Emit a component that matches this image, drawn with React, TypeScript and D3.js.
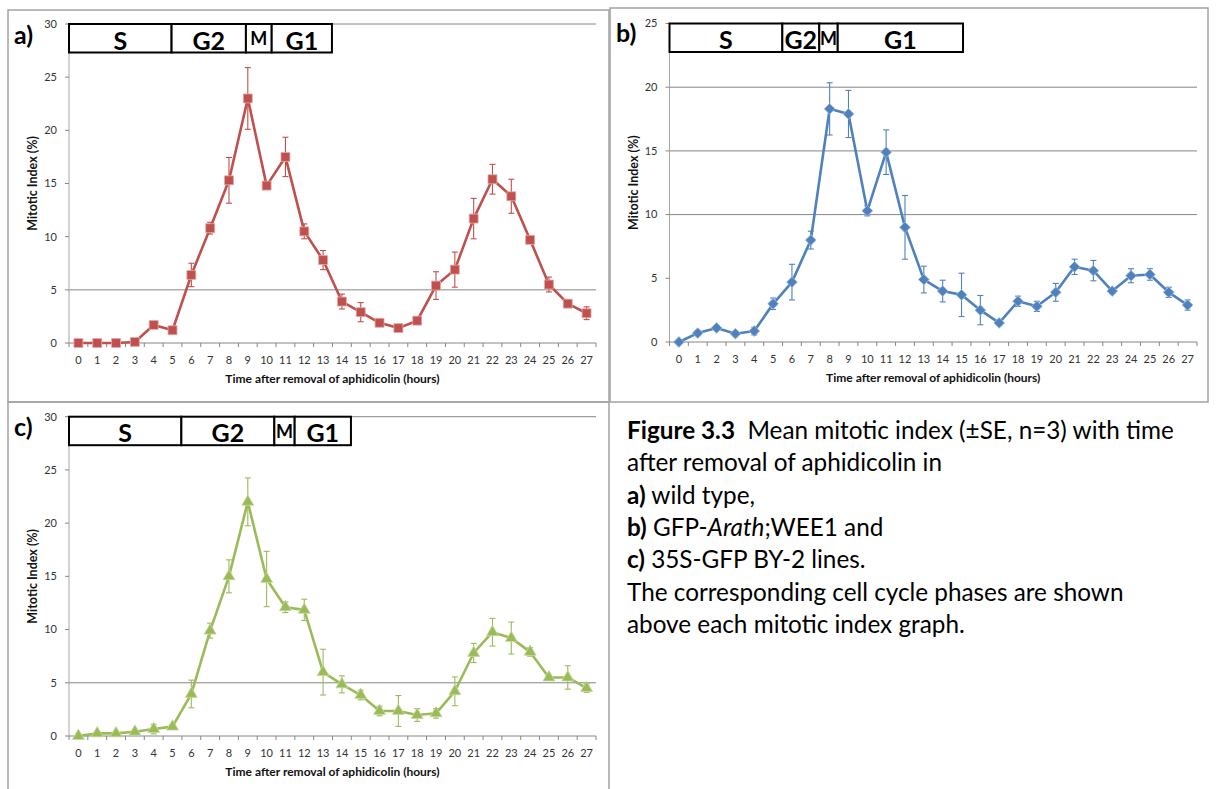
import * as d3 from 'd3';

// time points (hours after removal of aphidicolin)
const hours = [0, 1, 2, 3, 4, 5, 6, 7, 8, 9, 10, 11, 12, 13, 14, 15, 16, 17, 18, 19, 20, 21, 22, 23, 24, 25, 26, 27];

// a) wild type
const wildTypeMean = [0, 0, 0, 0.1, 1.7, 1.2, 6.4, 10.8, 15.3, 23.0, 14.8, 17.5, 10.5, 7.8, 3.9, 2.9, 1.9, 1.4, 2.1, 5.4, 6.9, 11.7, 15.4, 13.8, 9.7, 5.5, 3.7, 2.8];
const wildTypeSE = [0.1, 0.1, 0.1, 0.1, 0.2, 0.2, 1.1, 0.55, 2.15, 2.9, 0.3, 1.85, 0.7, 0.9, 0.7, 0.9, 0.2, 0.2, 0.1, 1.3, 1.65, 1.9, 1.4, 1.6, 0.2, 0.7, 0.1, 0.6];

// b) GFP-Arath;WEE1
const weeMean = [0, 0.7, 1.1, 0.65, 0.86, 3.0, 4.7, 8.0, 18.3, 17.9, 10.3, 14.9, 9.0, 4.9, 4.0, 3.7, 2.5, 1.5, 3.2, 2.8, 3.9, 5.9, 5.6, 4.0, 5.2, 5.3, 3.9, 2.9];
const weeSE = [0.1, 0.2, 0.15, 0.15, 0.3, 0.45, 1.4, 0.7, 2.05, 1.85, 0.4, 1.75, 2.5, 1.05, 0.85, 1.7, 1.15, 0.2, 0.4, 0.4, 0.7, 0.6, 0.8, 0.2, 0.55, 0.45, 0.4, 0.4];

// c) 35S-GFP
const gfpMean = [0, 0.25, 0.25, 0.4, 0.65, 0.88, 3.95, 9.9, 15.0, 22.0, 14.75, 12.1, 11.85, 6.0, 4.85, 3.85, 2.35, 2.35, 1.97, 2.13, 4.2, 7.8, 9.75, 9.2, 7.9, 5.5, 5.5, 4.5];
const gfpSE = [0.1, 0.1, 0.1, 0.1, 0.45, 0.2, 1.3, 0.7, 1.55, 2.25, 2.6, 0.5, 1.0, 2.15, 0.8, 0.45, 0.45, 1.45, 0.6, 0.45, 1.35, 0.9, 1.3, 1.5, 0.4, 0.2, 1.1, 0.4];

// cell cycle phases, boundaries in hours
const phaseNames = ['S', 'G2', 'M', 'G1'];
const wildTypePhases = [0, 5.45, 9.4, 10.77, 13.97];
const weePhases = [0, 5.99, 7.95, 8.93, 15.58];
const gfpPhases = [0, 5.97, 10.91, 11.99, 14.98];

const ticks30 = [0, 5, 10, 15, 20, 25, 30];
const ticks25 = [0, 5, 10, 15, 20, 25];
const grid30 = [5, 30];
const grid25 = [10, 15, 20];

const FONT = 'Lato, "Open Sans", sans-serif';

interface PanelProps {
  label: string;
  frame: { x: number; y: number; w: number; h: number };
  plot: { left: number; right: number; top: number; bottom: number };
  mean: number[];
  se: number[];
  yTicks: number[];
  grid: number[];
  phases: number[];
  color: string;
  edge: string;
  marker: 'square' | 'diamond' | 'triangle';
}

function Panel({ label, frame, plot, mean, se, yTicks, grid, phases, color, edge, marker }: PanelProps) {
  const x = d3.scaleBand<number>().domain(hours).range([plot.left, plot.right]);
  const xh = d3.scaleLinear().domain([0, hours.length]).range([plot.left, plot.right]);
  const yMax = d3.max(yTicks) || 30;
  const y = d3.scaleLinear().domain([0, yMax]).range([plot.bottom, plot.top]);
  const cx = (h: number) => (x(h) || 0) + x.bandwidth() / 2;

  const line = d3.line<number>()
    .x((_, i) => cx(hours[i]))
    .y(d => y(d));

  let sym;
  if (marker === 'square') sym = d3.symbol(d3.symbolSquare, 80)();
  else if (marker === 'diamond') sym = d3.symbol(d3.symbolSquare, 58)();
  else sym = d3.symbol(d3.symbolTriangle, 62)();
  const rot = marker === 'diamond' ? 45 : 0;

  const boxTop = y(yMax);
  const boxH = 28.5;
  const boxBottom = boxTop + boxH;
  const tickEdges = d3.range(hours.length + 1).map(i => xh(i));

  return (
    <g>
      <rect x={frame.x} y={frame.y} width={frame.w} height={frame.h} fill="none" stroke="#a3a3a3" strokeWidth={1.5} />
      {/* gridlines */}
      {grid.map(v => (
        <line key={v} x1={plot.left} x2={plot.right} y1={y(v)} y2={y(v)} stroke="#868686" strokeWidth={1} />
      ))}
      {/* y axis */}
      <line x1={plot.left} x2={plot.left} y1={plot.top} y2={plot.bottom} stroke="#a6a6a6" strokeWidth={1} />
      {yTicks.map(v => (
        <g key={v}>
          <line x1={plot.left - 4} x2={plot.left} y1={y(v)} y2={y(v)} stroke="#868686" />
          <text x={plot.left - 12} y={y(v)} dy="0.35em" textAnchor="end" fontSize={11} fill="#333" fontFamily={FONT}>{v}</text>
        </g>
      ))}
      {/* x axis */}
      <line x1={plot.left} x2={plot.right} y1={plot.bottom} y2={plot.bottom} stroke="#868686" strokeWidth={1} />
      {tickEdges.map((t, i) => (
        <line key={i} x1={t} x2={t} y1={plot.bottom} y2={plot.bottom + 4} stroke="#868686" />
      ))}
      {hours.map(h => (
        <text key={h} x={cx(h)} y={plot.bottom + 21} textAnchor="middle" fontSize={11} fill="#333" fontFamily={FONT}>{h}</text>
      ))}
      <text x={(plot.left + plot.right) / 2} y={plot.bottom + 40} textAnchor="middle" fontSize={12} fontWeight="bold" fill="#111" fontFamily={FONT}>
        Time after removal of aphidicolin (hours)
      </text>
      <text transform={`translate(${plot.left - 32},${(plot.top + plot.bottom) / 2}) rotate(-90)`} textAnchor="middle" fontSize={12.5} fontWeight="bold" fill="#111" fontFamily={FONT}>
        Mitotic Index (%)
      </text>
      {/* series */}
      <path d={line(mean) || ''} fill="none" stroke={color} strokeWidth={2.6} strokeLinejoin="round" />
      {mean.map((m, i) => {
        const px = cx(hours[i]);
        return (
          <g key={i} stroke={color} strokeWidth={1.1}>
            <line x1={px} x2={px} y1={y(m + se[i])} y2={y(Math.max(0, m - se[i]))} />
            <line x1={px - 3} x2={px + 3} y1={y(m + se[i])} y2={y(m + se[i])} />
            <line x1={px - 3} x2={px + 3} y1={y(Math.max(0, m - se[i]))} y2={y(Math.max(0, m - se[i]))} />
          </g>
        );
      })}
      {mean.map((m, i) => (
        <path key={i} d={sym || ''} transform={`translate(${cx(hours[i])},${y(m)}) rotate(${rot})`} fill={color} stroke={edge} strokeWidth={0.8} />
      ))}
      {/* phase box */}
      {phaseNames.map((p, i) => {
        const x0 = xh(phases[i]);
        const x1 = xh(phases[i + 1]);
        const small = p === 'M';
        return (
          <g key={p}>
            <rect x={x0} y={boxTop} width={x1 - x0} height={boxH} fill="#fff" stroke="#000" strokeWidth={2} />
            <text x={(x0 + x1) / 2} y={small ? boxBottom - 7.5 : boxBottom - 3} textAnchor="middle" fontSize={small ? 18 : 25} fontWeight="bold" fill="#000" fontFamily={FONT}>{p}</text>
          </g>
        );
      })}
      <text x={frame.x + 6} y={frame.y + 34} fontSize={25} fontWeight="bold" fill="#000" fontFamily={FONT}>{label}</text>
    </g>
  );
}

export default function App() {
  const cap = { x: 627, y0: 439, dy: 32.3, size: 24.3 };
  return (
    <svg width={1217} height={789} style={{ position: 'absolute', left: 0, top: 0, background: '#fff' }}>
      <rect width={1217} height={789} fill="#fff" />
      <Panel label="a)" frame={{ x: 8, y: 10, w: 601, h: 392 }} plot={{ left: 69, right: 596, top: 24, bottom: 343 }}
        mean={wildTypeMean} se={wildTypeSE} yTicks={ticks30} grid={grid30} phases={wildTypePhases}
        color="#C0504D" edge="#dfa9a7" marker="square" />
      <Panel label="b)" frame={{ x: 610, y: 8, w: 598, h: 394 }} plot={{ left: 669.5, right: 1197, top: 23.5, bottom: 342 }}
        mean={weeMean} se={weeSE} yTicks={ticks25} grid={grid25} phases={weePhases}
        color="#4F81BD" edge="#9fbbe0" marker="diamond" />
      <Panel label="c)" frame={{ x: 8, y: 402, w: 601, h: 400 }} plot={{ left: 69, right: 596, top: 416.7, bottom: 736 }}
        mean={gfpMean} se={gfpSE} yTicks={ticks30} grid={grid30} phases={gfpPhases}
        color="#9BBB59" edge="#c6d99f" marker="triangle" />
      <text fontFamily={FONT} fontSize={cap.size} fill="#000">
        <tspan x={cap.x} y={cap.y0}><tspan fontWeight="bold">Figure 3.3</tspan>{'\u00a0\u00a0'}Mean mitotic index (±SE, n=3) with time</tspan>
        <tspan x={cap.x} y={cap.y0 + cap.dy}>after removal of aphidicolin in</tspan>
        <tspan x={cap.x} y={cap.y0 + cap.dy * 2}><tspan fontWeight="bold">a)</tspan> wild type,</tspan>
        <tspan x={cap.x} y={cap.y0 + cap.dy * 3}><tspan fontWeight="bold">b)</tspan> GFP-<tspan fontStyle="italic">Arath</tspan>;WEE1 and</tspan>
        <tspan x={cap.x} y={cap.y0 + cap.dy * 4}><tspan fontWeight="bold">c)</tspan> 35S-GFP BY-2 lines.</tspan>
        <tspan x={cap.x} y={cap.y0 + cap.dy * 5}>The corresponding cell cycle phases are shown</tspan>
        <tspan x={cap.x} y={cap.y0 + cap.dy * 6}>above each mitotic index graph.</tspan>
      </text>
    </svg>
  );
}
